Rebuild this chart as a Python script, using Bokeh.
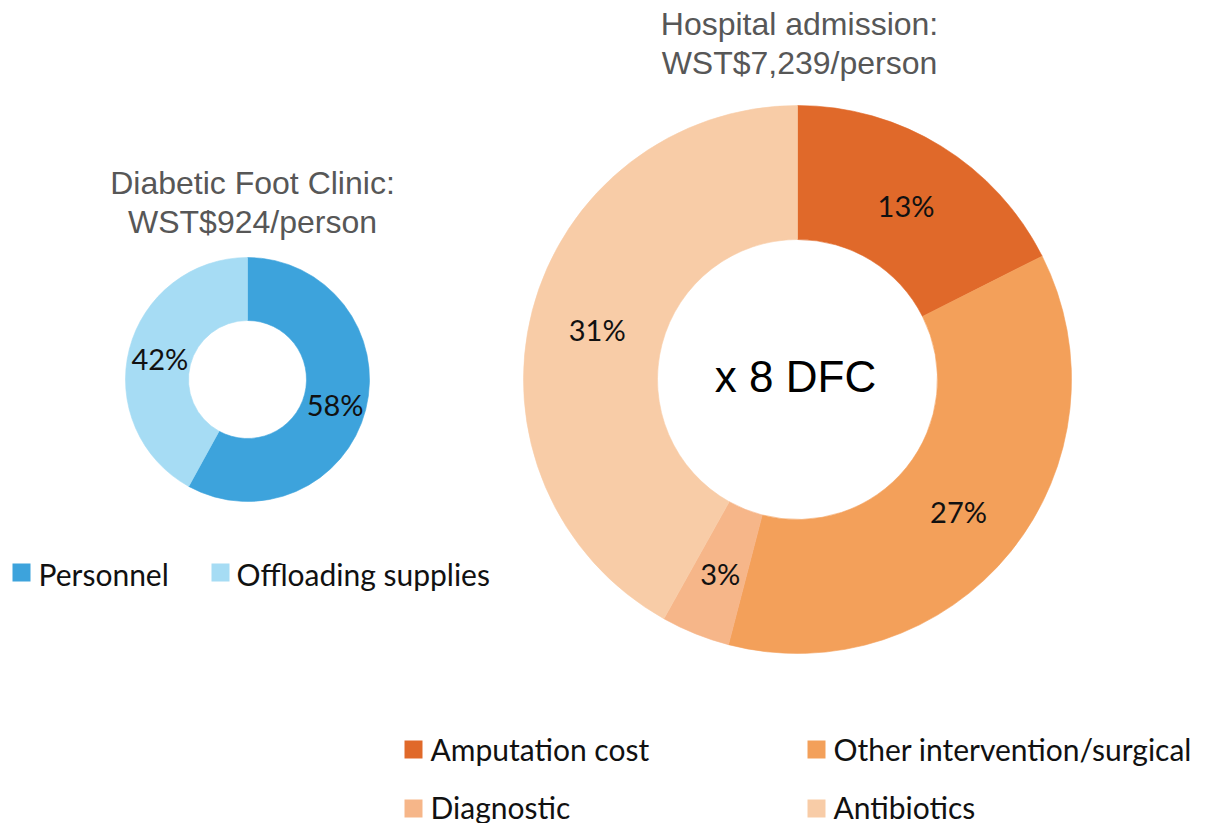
import math
from bokeh.plotting import figure
from bokeh.models import ColumnDataSource
from bokeh.core.properties import value
from bokeh.embed import file_html
from bokeh.resources import INLINE

# ---- data ----
dfc_categories = ["Personnel", "Offloading supplies"]
dfc_values = [58, 42]
dfc_colors = ["#3DA3DC", "#A6DCF4"]

hosp_categories = ["Amputation cost", "Other intervention/surgical", "Diagnostic", "Antibiotics"]
hosp_values = [13, 27, 3, 31]
hosp_colors = ["#E0692A", "#F3A05A", "#F6B689", "#F8CCA7"]

dfc_title = ["Diabetic Foot Clinic:", "WST$924/person"]
hosp_title = ["Hospital admission:", "WST$7,239/person"]
center_text = "x 8 DFC"

W, H = 1211, 823


def Y(img_y):
    # convert image pixel row to data y
    return H - img_y


def X(img_x):
    return img_x


p = figure(width=W, height=H, x_range=(0, W), y_range=(0, H),
           output_backend="svg", toolbar_location=None,
           min_border=0, min_border_left=0, min_border_right=0,
           min_border_top=0, min_border_bottom=0)
p.axis.visible = False
p.grid.visible = False
p.outline_line_color = None
p.background_fill_color = "white"
p.border_fill_color = "white"


def donut(cx, cy, r_in, r_out, cats, vals, colors, label_size):
    total = float(sum(vals))
    starts, ends, lx, ly, labels = [], [], [], [], []
    cum = 0.0
    r_mid = (r_in + r_out) / 2.0
    for v in vals:
        f0 = cum / total
        cum += v
        f1 = cum / total
        a0 = math.pi / 2 - f0 * 2 * math.pi
        a1 = math.pi / 2 - f1 * 2 * math.pi
        starts.append(a0)
        ends.append(a1)
        am = (a0 + a1) / 2
        lx.append(cx + r_mid * math.cos(am))
        ly.append(cy + r_mid * math.sin(am) - 2)
        labels.append(f"{v}%")
    src = ColumnDataSource(dict(x=[cx] * len(vals), y=[cy] * len(vals),
                                start=starts, end=ends, color=colors,
                                cat=cats))
    p.annular_wedge(x="x", y="y", inner_radius=r_in, outer_radius=r_out,
                    start_angle="start", end_angle="end", direction="clock",
                    fill_color="color", line_color="color", line_width=0.6,
                    source=src)
    lsrc = ColumnDataSource(dict(x=lx, y=ly, t=labels))
    p.text(x="x", y="y", text="t", source=lsrc, text_align="center",
           text_baseline="middle", text_font=value("Lato"),
           text_font_size=f"{label_size}px", text_color="#111111")


# left donut
donut(X(247), Y(379), 59, 122, dfc_categories, dfc_values, dfc_colors, 29)
# right donut
donut(X(797), Y(379), 140, 274, hosp_categories, hosp_values, hosp_colors, 29)


def mtext(x, y, s, size, color, font="Liberation Sans", align="center"):
    p.text(x=[X(x)], y=[Y(y)], text=[s], text_align=align,
           text_baseline="middle", text_font=value(font),
           text_font_size=f"{size}px", text_color=color)


# titles
for i, line in enumerate(dfc_title):
    mtext(252, [182, 221][i], line, 32, "#575757")
for i, line in enumerate(hosp_title):
    mtext(799, [23, 62][i], line, 32, "#575757")

mtext(795, 376, center_text, 44, "#000000")


# legends (custom)
def legend_item(sq_x, sq_y, tx, mid_y, label, color):
    p.rect(x=[X(sq_x)], y=[Y(sq_y)], width=18, height=18,
           fill_color=color, line_color=None)
    mtext(tx, mid_y, label, 30, "#111111", font="Lato", align="left")


legend_item(21, 572, 38, 573, dfc_categories[0], dfc_colors[0])
legend_item(220, 572, 236, 573, dfc_categories[1], dfc_colors[1])

legend_item(413, 749, 430, 748, hosp_categories[0], hosp_colors[0])
legend_item(816, 749, 833, 748, hosp_categories[1], hosp_colors[1])
legend_item(413, 808, 430, 806, hosp_categories[2], hosp_colors[2])
legend_item(816, 808, 833, 806, hosp_categories[3], hosp_colors[3])

open("out.html", "w").write(file_html(p, INLINE))
